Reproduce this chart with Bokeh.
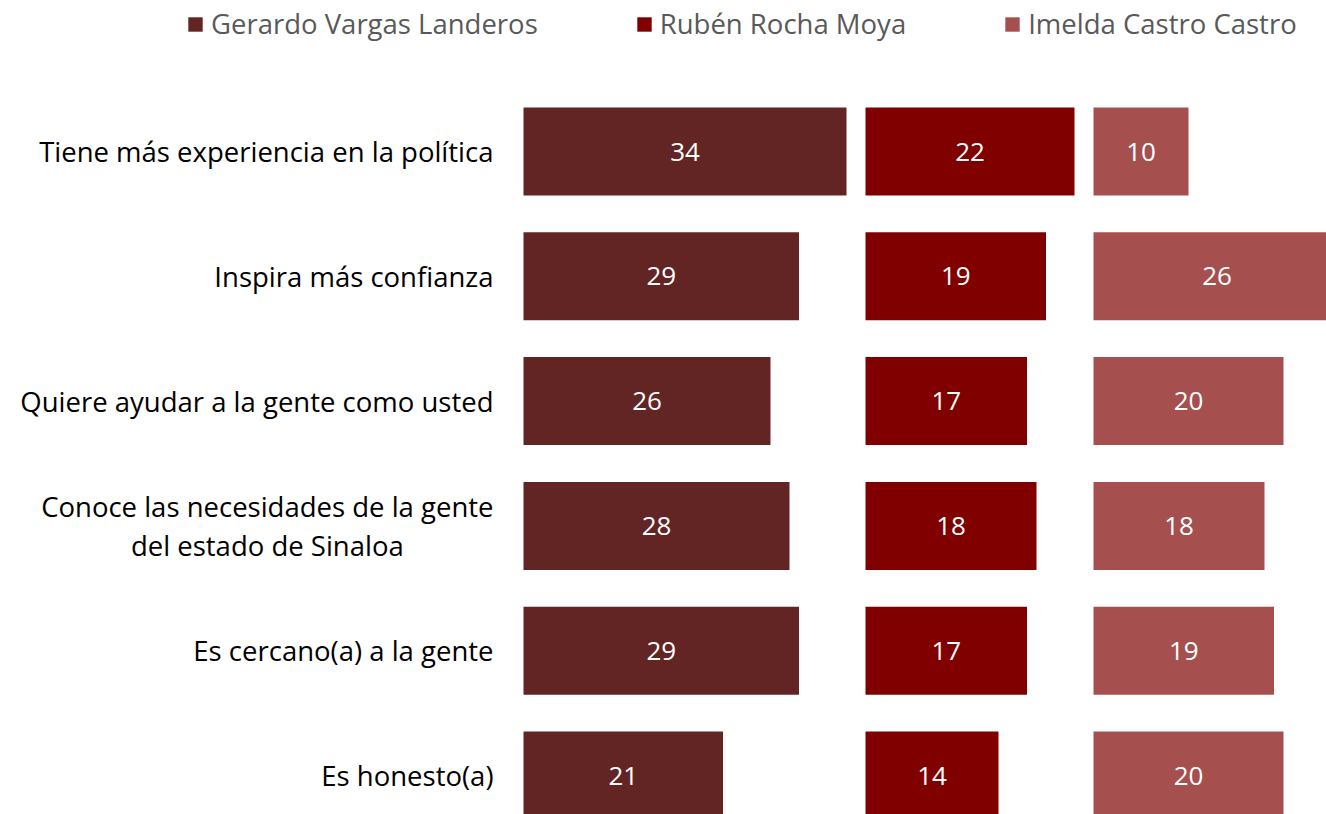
from bokeh.plotting import figure
from bokeh.models import Range1d, ColumnDataSource, Legend, LegendItem
from bokeh.core.properties import value
from bokeh.embed import file_html
from bokeh.resources import INLINE

categories = [
    "Tiene más experiencia en la política",
    "Inspira más confianza",
    "Quiere ayudar a la gente como usted",
    "Conoce las necesidades de la gente\ndel estado de Sinaloa",
    "Es cercano(a) a la gente",
    "Es honesto(a)",
]
series_names = ["Gerardo Vargas Landeros", "Rubén Rocha Moya", "Imelda Castro Castro"]
vargas = [34, 29, 26, 28, 29, 21]
rocha = [22, 19, 17, 18, 17, 14]
castro = [10, 26, 20, 18, 19, 20]
colors = ["#632523", "#800000", "#A5504F"]

FONT = "Open Sans"
W, H = 1326, 814
PX_PER_UNIT = 9.5
X0 = 523  # canvas px of value 0 in first panel
ROW = 124.8
TOP_CENTER = 151
panel_offsets = [0, 36, 60]

p = figure(width=W, height=H, output_backend="svg", toolbar_location=None,
           x_range=Range1d(-X0 / PX_PER_UNIT, (W - X0) / PX_PER_UNIT),
           y_range=Range1d(-(H - TOP_CENTER - 5 * ROW) / ROW, 5 + TOP_CENTER / ROW),
           min_border=0)
p.axis.visible = False
p.grid.visible = False
p.outline_line_color = None
p.background_fill_color = "white"
p.border_fill_color = "white"

n = len(categories)
ypos = [n - 1 - i for i in range(n)]

renderers = []
for vals, off, col in zip([vargas, rocha, castro], panel_offsets, colors):
    src = ColumnDataSource(dict(
        y=ypos,
        left=[off] * n,
        right=[off + v for v in vals],
        mid=[off + v / 2 for v in vals],
        lab=[str(v) for v in vals],
    ))
    r = p.hbar(y="y", left="left", right="right", height=0.705, source=src,
               fill_color=col, line_color=None)
    renderers.append(r)
    p.text(x="mid", y="y", text="lab", source=src, text_color="white",
           text_font=value(FONT), text_font_size="26px",
           text_align="center", text_baseline="middle")

lab_src = ColumnDataSource(dict(x=[0] * n, y=ypos, t=categories))
p.text(x="x", y="y", text="t", source=lab_src, x_offset=-30,
       anchor="center_right",
       text_color="#000000", text_font=value(FONT), text_font_size="27.5px",
       text_align="center", text_baseline="middle", text_line_height=1.04)

legend = Legend(items=[LegendItem(label=nm, renderers=[r]) for nm, r in zip(series_names, renderers)],
                orientation="horizontal", location=(186, H - 42),
                glyph_width=18, glyph_height=18, label_standoff=7, spacing=97,
                padding=0, margin=0, border_line_color=None,
                background_fill_alpha=0,
                label_text_font=FONT, label_text_font_size="27.5px",
                label_text_color="#595959", label_height=30)
p.add_layout(legend)

open("out.html", "w").write(file_html(p, INLINE))
